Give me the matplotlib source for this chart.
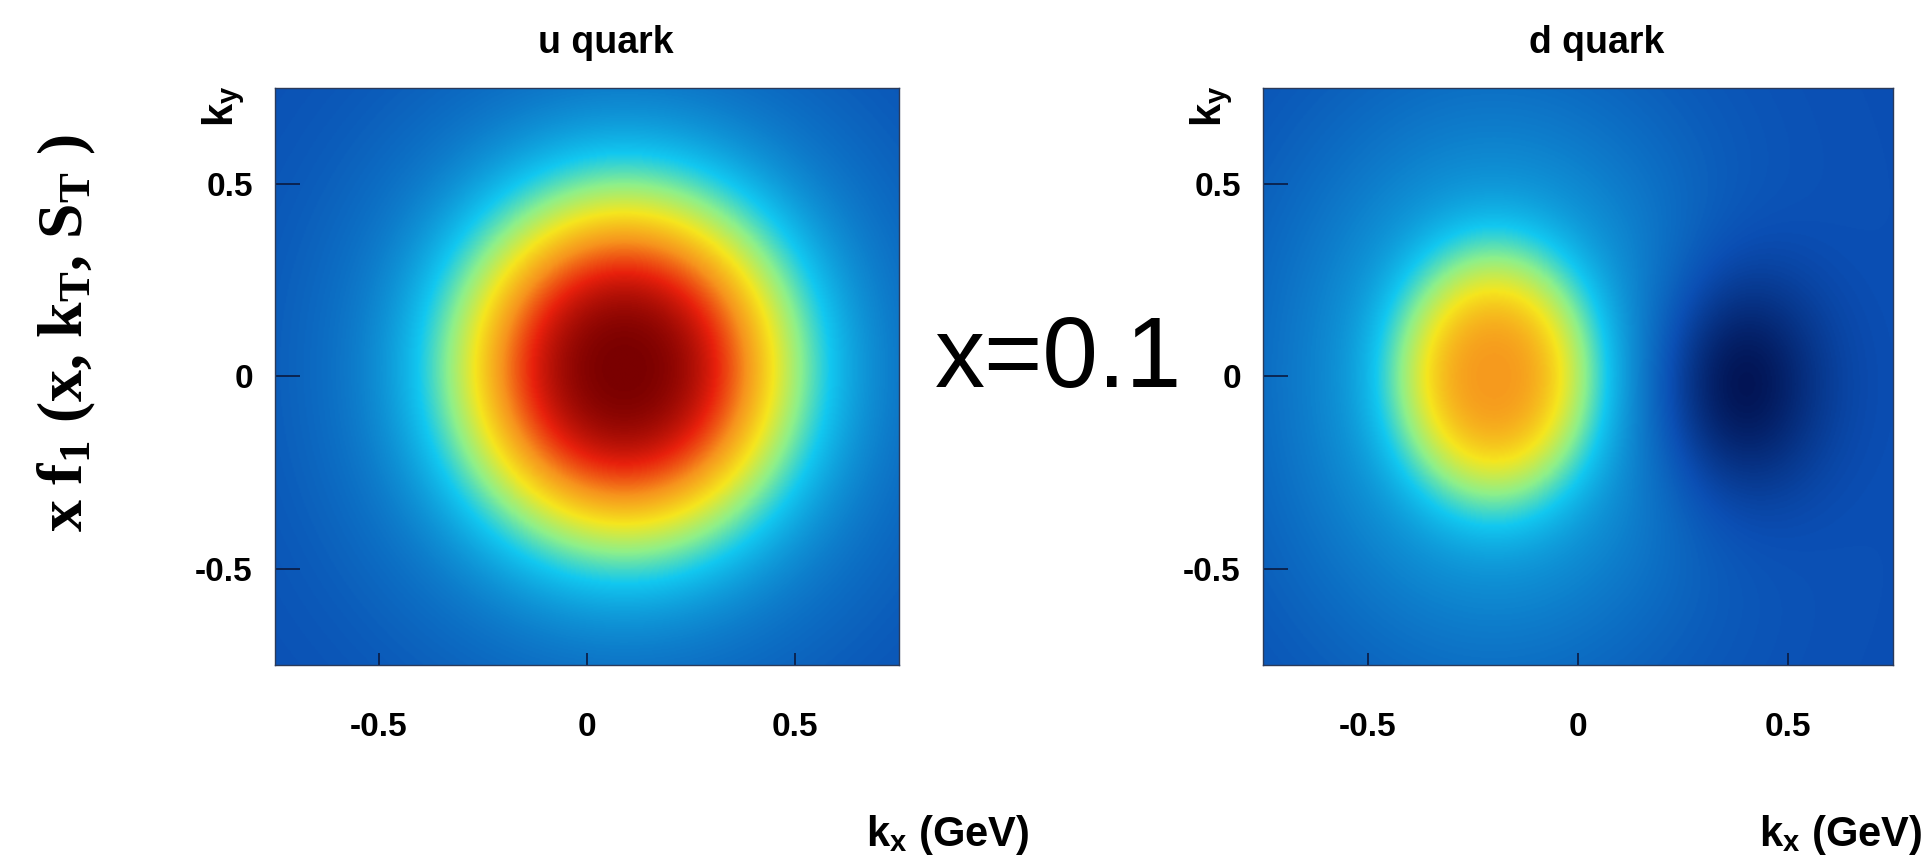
import numpy as np
import matplotlib.pyplot as plt
from matplotlib.colors import LinearSegmentedColormap

# Transverse momentum grid (GeV), same range on both axes.
k_range = [-0.75, 0.75]
k_ticks = [-0.5, 0, 0.5]
k_tick_labels = ["-0.5", "0", "0.5"]

quark_titles = ["u quark", "d quark"]

# Density model: a flat background plus shaped lobes.
# Each lobe: amplitude, centre kx, centre ky, width kx, width ky, shape power.
background = 0.15
u_lobes = [
    [0.55, 0.09, 0.02, 0.41, 0.46, 1.5],
    [0.30, 0.09, 0.02, 0.56, 0.64, 1.0],
]
d_lobes = [
    [0.38, -0.20, 0.00, 0.24, 0.33, 1.5],
    [0.22, -0.20, 0.00, 0.48, 0.68, 1.0],
    [-0.17, 0.37, -0.02, 0.21, 0.30, 1.0],
]

# jet-like colour scale, slightly muted
cmap_stops = [
    (0.00, "#000840"),
    (0.15, "#0b4fb4"),
    (0.38, "#12c8f0"),
    (0.50, "#8ef08a"),
    (0.63, "#f5e61e"),
    (0.76, "#f7941d"),
    (0.88, "#e8200c"),
    (1.00, "#7a0000"),
]
cmap = LinearSegmentedColormap.from_list("muted_jet", cmap_stops)

plt.rcParams["mathtext.fontset"] = "custom"
plt.rcParams["mathtext.rm"] = "Liberation Serif:bold"
plt.rcParams["mathtext.bf"] = "Liberation Serif:bold"
plt.rcParams["mathtext.it"] = "Liberation Serif:bold"
plt.rcParams["mathtext.sf"] = "Liberation Sans:bold"


def density(lobes, kx, ky):
    field = np.full_like(kx, background)
    for amp, cx, cy, wx, wy, power in lobes:
        q = ((kx - cx) / wx) ** 2 + ((ky - cy) / wy) ** 2
        field += amp * np.exp(-q ** power)
    return field


k_vals = np.linspace(k_range[0], k_range[1], 500)
kx_grid, ky_grid = np.meshgrid(k_vals, k_vals)

figure = plt.figure(figsize=(19.26, 8.56), dpi=100)
axes_boxes = [
    [275 / 1926, 191 / 856, 624 / 1926, 577 / 856],
    [1263 / 1926, 191 / 856, 630 / 1926, 577 / 856],
]

for box, title, lobes in zip(axes_boxes, quark_titles, [u_lobes, d_lobes]):
    axes = figure.add_axes(box)
    axes.imshow(
        density(lobes, kx_grid, ky_grid),
        extent=[k_range[0], k_range[1], k_range[0], k_range[1]],
        origin="lower",
        cmap=cmap,
        vmin=0.0,
        vmax=1.0,
        aspect="auto",
        interpolation="bilinear",
    )
    axes.set_xlim(k_range)
    axes.set_ylim(k_range)
    axes.set_xticks(k_ticks)
    axes.set_xticklabels(k_tick_labels)
    axes.set_yticks(k_ticks)
    axes.set_yticklabels(k_tick_labels)
    axes.tick_params(axis="x", direction="in", length=9, width=1.2,
                     color="#0a1a40", pad=34, labelsize=24)
    axes.tick_params(axis="y", direction="in", length=18, width=1.2,
                     color="#0a1a40", pad=16, labelsize=24)
    for label in axes.get_xticklabels() + axes.get_yticklabels():
        label.set_fontfamily("Liberation Sans")
        label.set_fontweight("bold")
    for spine in axes.spines.values():
        spine.set_color("#2a3a5a")
        spine.set_linewidth(1.0)

    axes.set_title(title, x=0.53, pad=25, fontsize=27,
                   fontfamily="Liberation Sans", fontweight="bold")
    axes.text(-0.082, 0.968, r"k$_\mathsf{y}$", transform=axes.transAxes,
              rotation=90, ha="center", va="center", fontsize=30,
              fontfamily="Liberation Sans", fontweight="bold")

# momentum labels under each panel
for right_edge in [1029, 1922]:
    figure.text(right_edge / 1926, 1 - 835 / 856, r"k$_\mathsf{x}$ (GeV)",
                ha="right", va="center", fontsize=30,
                fontfamily="Liberation Sans", fontweight="bold")

# Bjorken x of the maps
figure.text(1058 / 1926, 1 - 387 / 856, "x=0.1", ha="center",
            va="baseline", fontsize=72, fontfamily="Liberation Sans")

# overall quantity on the left
figure.text(67 / 1926, 1 - 333 / 856,
            r"x f$_\mathbf{1}$ (x, k$_\mathbf{T}$, S$_\mathbf{T}$ )",
            rotation=90, ha="center", va="center", fontsize=46,
            fontfamily="Liberation Serif", fontweight="bold")

plt.savefig("out.png", dpi=100)
